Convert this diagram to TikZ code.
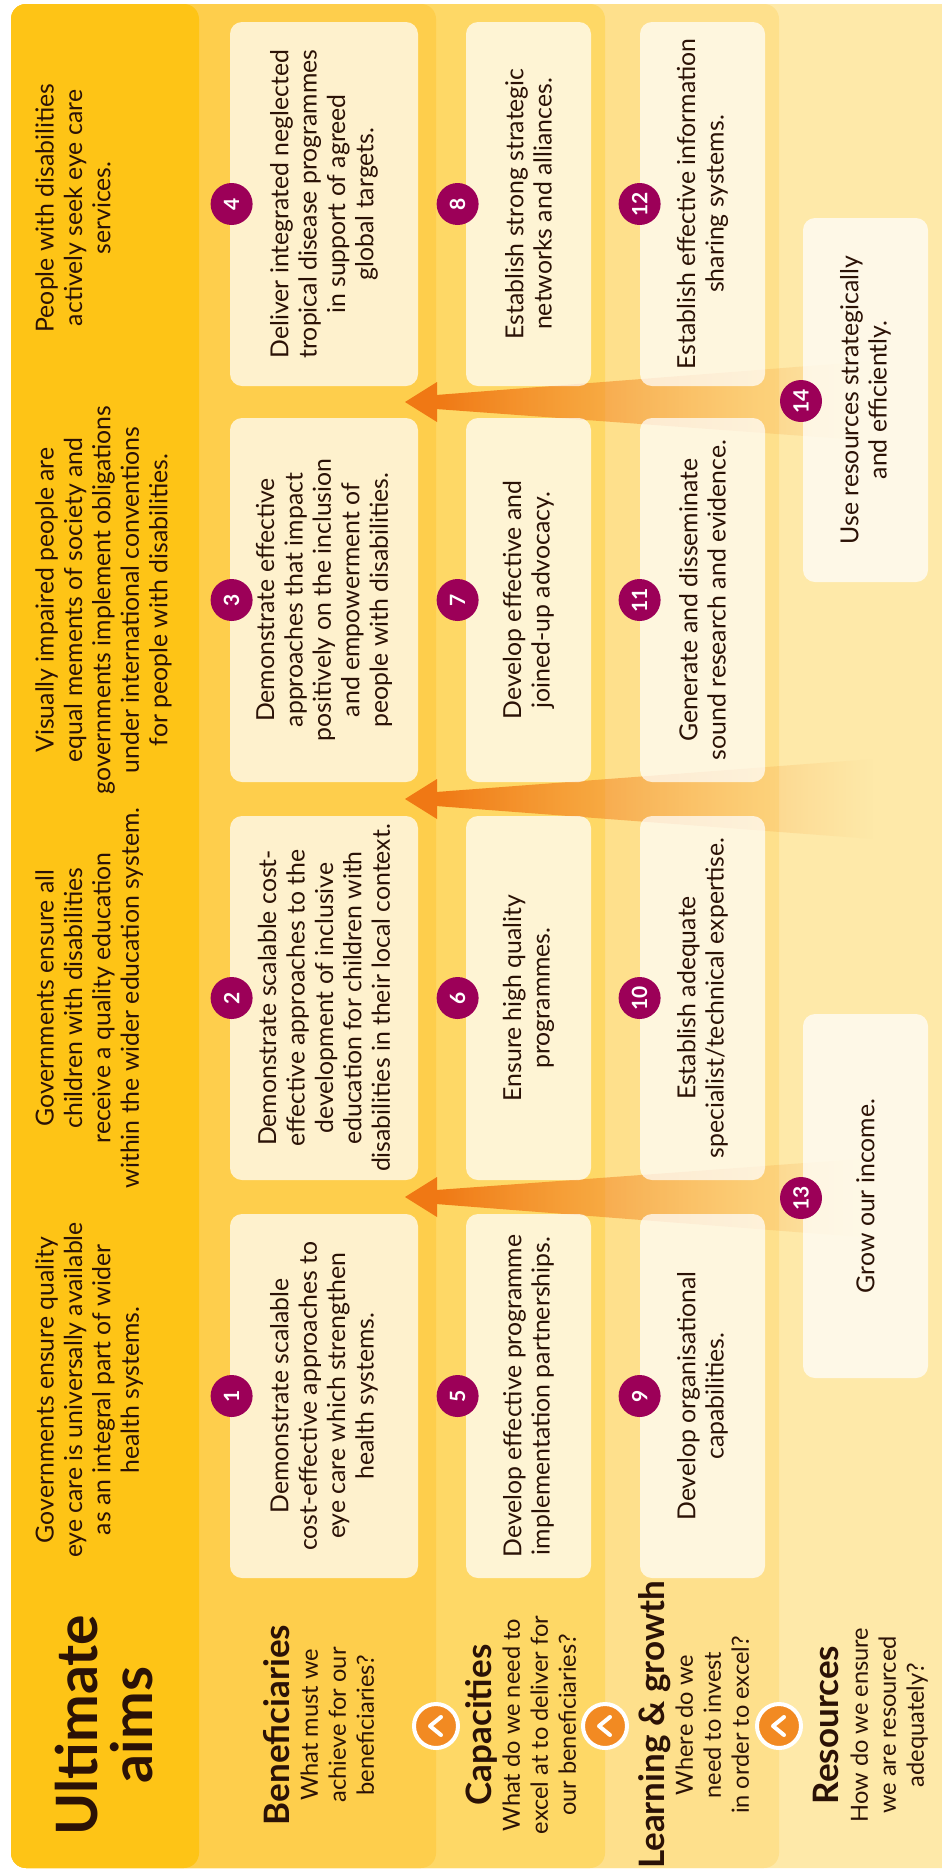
\documentclass[tikz,border=0pt]{standalone}
\usepackage{fontspec}
\setmainfont{Lato}
\usetikzlibrary{fadings,calc}

\definecolor{aimsband}{HTML}{FEC416}
\definecolor{benband}{HTML}{FECE4C}
\definecolor{capband}{HTML}{FED866}
\definecolor{learnband}{HTML}{FEE08C}
\definecolor{resband}{HTML}{FEE9A9}
\definecolor{ink}{HTML}{2B1206}
\definecolor{plum}{HTML}{9C0058}
\definecolor{chevorange}{HTML}{F28A22}
\definecolor{arrowhead}{HTML}{F07814}
\definecolor{arrowtail}{HTML}{F9AE4E}

\tikzfading[name=tailfade, left color=transparent!0, middle color=transparent!25, right color=transparent!100]

\tikzset{
  goalbox/.style={rotate=90, fill=white, fill opacity=0.72, text opacity=1, rounded corners=6pt,
    inner sep=0pt, align=center, text=ink, minimum width=182pt, font=\fontsize{12.4}{14.2}\selectfont},
  aimtext/.style={rotate=90, anchor=north, inner sep=0pt, align=center, text=ink,
    font=\fontsize{12.4}{14.2}\selectfont},
  badge/.style={circle, fill=plum, minimum size=21pt, inner sep=0pt, text=white, rotate=90,
    font=\bfseries\fontsize{10.5}{10.5}\selectfont},
  chevron/.style={circle, fill=chevorange, draw=white, line width=2pt, minimum size=22pt, inner sep=0pt},
  chevmark/.style={white, line width=2pt, line cap=round, line join=round},
  bandtitle/.style={rotate=90, anchor=north, inner sep=0pt, text=ink, font=\bfseries\fontsize{17.5}{20}\selectfont},
  bandquestion/.style={rotate=90, anchor=north, inner sep=0pt, align=center, text=ink,
    font=\fontsize{11.8}{14}\selectfont},
  wedge/.style={left color=arrowhead, right color=arrowtail, path fading=tailfade},
}

\begin{document}
\begin{tikzpicture}[x=0.5pt,y=-0.5pt]
    \useasboundingbox (0,0) rectangle (942,1870);
    \fill[resband, rounded corners=7.5pt] (11,4) rectangle (960,1868);
    \fill[learnband, rounded corners=7.5pt] (11,4) rectangle (779,1868);
    \fill[capband, rounded corners=7.5pt] (11,4) rectangle (605,1868);
    \fill[benband, rounded corners=7.5pt] (11,4) rectangle (436,1868);
    \fill[aimsband, rounded corners=7.5pt] (11,4) rectangle (199,1868);

    \coordinate (tipA) at (405,402);
    \coordinate (tailA) at (801,401);
    \coordinate (tipB) at (405,799);
    \coordinate (tailB) at (801,799);
    \coordinate (tipC) at (405,1197);
    \coordinate (tailC) at (801,1198);
    \shade[wedge] ($(tipA)+(31,-7)$) -- ($(tailA)+(72,-40)$) -- ($(tailA)+(72,40)$) -- ($(tipA)+(31,7)$) -- cycle;
    \shade[wedge] ($(tipB)+(31,-7)$) -- ($(tailB)+(72,-40)$) -- ($(tailB)+(72,40)$) -- ($(tipB)+(31,7)$) -- cycle;
    \shade[wedge] ($(tipC)+(31,-7)$) -- ($(tailC)+(72,-40)$) -- ($(tailC)+(72,40)$) -- ($(tipC)+(31,7)$) -- cycle;
    \fill[arrowhead] (tipA) -- ($(tipA)+(32,-20)$) -- ($(tipA)+(32,20)$) -- cycle;
    \fill[arrowhead] (tipB) -- ($(tipB)+(32,-20)$) -- ($(tipB)+(32,20)$) -- cycle;
    \fill[arrowhead] (tipC) -- ($(tipC)+(32,-20)$) -- ($(tipC)+(32,20)$) -- cycle;

    \node[aimtext] (aim4) at (35,208) {People with disabilities\\actively seek eye care\\services.};
    \node[aimtext] (aim3) at (35,600) {Visually impaired people are\\equal mements of society and\\governments implement obligations\\under international conventions\\for people with disabilities.};
    \node[aimtext] (aim2) at (35,998) {Governments ensure all\\children with disabilities\\receive a quality education\\within the wider education system.};
    \node[aimtext] (aim1) at (35,1390) {Governments ensure quality\\eye care is universally available\\as an integral part of wider\\health systems.};

    \node[goalbox, minimum height=94pt] (g4) at (324,204) {Deliver integrated neglected\\tropical disease programmes\\in support of agreed\\global targets.};
    \node[goalbox, minimum height=94pt] (g3) at (324,600) {Demonstrate effective\\approaches that impact\\positively on the inclusion\\and empowerment of\\people with disabilities.};
    \node[goalbox, minimum height=94pt] (g2) at (324,998) {Demonstrate scalable cost-\\effective approaches to the\\development of inclusive\\education for children with\\disabilities in their local context.};
    \node[goalbox, minimum height=94pt] (g1) at (324,1396) {Demonstrate scalable\\cost-effective approaches to\\eye care which strengthen\\health systems.};

    \node[goalbox, minimum height=62.5pt] (g8) at (528.5,204) {Establish strong strategic\\networks and alliances.};
    \node[goalbox, minimum height=62.5pt] (g7) at (528.5,600) {Develop effective and\\joined-up advocacy.};
    \node[goalbox, minimum height=62.5pt] (g6) at (528.5,998) {Ensure high quality\\programmes.};
    \node[goalbox, minimum height=62.5pt] (g5) at (528.5,1396) {Develop effective programme\\implementation partnerships.};

    \node[goalbox, minimum height=62.5pt] (g12) at (702.5,204) {Establish effective information\\sharing systems.};
    \node[goalbox, minimum height=62.5pt] (g11) at (702.5,600) {Generate and disseminate\\sound research and evidence.};
    \node[goalbox, minimum height=62.5pt] (g10) at (702.5,998) {Establish adequate\\specialist/technical expertise.};
    \node[goalbox, minimum height=62.5pt] (g9) at (702.5,1396) {Develop organisational\\capabilities.};

    \node[goalbox, minimum height=62.5pt] (g14) at (865.5,400) {Use resources strategically\\and efficiently.};
    \node[goalbox, minimum height=62.5pt] (g13) at (865.5,1196) {Grow our income.};

    \node[badge] (n4) at ([xshift=1pt]g4.north) {4};
    \node[badge] (n3) at ([xshift=1pt]g3.north) {3};
    \node[badge] (n2) at ([xshift=1pt]g2.north) {2};
    \node[badge] (n1) at ([xshift=1pt]g1.north) {1};
    \node[badge] (n8) at ([xshift=-4pt]g8.north) {8};
    \node[badge] (n7) at ([xshift=-4pt]g7.north) {7};
    \node[badge] (n6) at ([xshift=-4pt]g6.north) {6};
    \node[badge] (n5) at ([xshift=-4pt]g5.north) {5};
    \node[badge] (n12) at (g12.north) {12};
    \node[badge] (n11) at (g11.north) {11};
    \node[badge] (n10) at (g10.north) {10};
    \node[badge] (n9) at (g9.north) {9};
    \node[badge] (n14) at (tailA) {14};
    \node[badge] (n13) at (tailC) {13};

    \node[bandtitle, align=center, font=\bfseries\fontsize{28.5}{27.5}\selectfont] (aimsT) at (55,1725) {Ultimate\\aims};
    \node[bandtitle] (benT) at (263,1725) {Beneficiaries};
    \node[bandquestion] (benQ) at (300,1725) {What must we\\achieve for our\\beneficiaries?};
    \node[bandtitle] (capT) at (465,1725) {Capacities};
    \node[bandquestion] (capQ) at (502,1725) {What do we need to\\excel at to deliver for\\our beneficiaries?};
    \node[bandtitle] (learnT) at (638,1725) {Learning \& growth};
    \node[bandquestion] (learnQ) at (675,1725) {Where do we\\need to invest\\in order to excel?};
    \node[bandtitle] (resT) at (813,1725) {Resources};
    \node[bandquestion] (resQ) at (850,1725) {How do we ensure\\we are resourced\\adequately?};

    \node[chevron] (chev1) at (436,1726) {};
    \node[chevron] (chev2) at (605,1726) {};
    \node[chevron] (chev3) at (779,1726) {};
    \draw[chevmark] ([shift={(5,-9)}]chev1.center) -- ([shift={(-6,0)}]chev1.center) -- ([shift={(5,9)}]chev1.center);
    \draw[chevmark] ([shift={(5,-9)}]chev2.center) -- ([shift={(-6,0)}]chev2.center) -- ([shift={(5,9)}]chev2.center);
    \draw[chevmark] ([shift={(5,-9)}]chev3.center) -- ([shift={(-6,0)}]chev3.center) -- ([shift={(5,9)}]chev3.center);
\end{tikzpicture}
\end{document}
